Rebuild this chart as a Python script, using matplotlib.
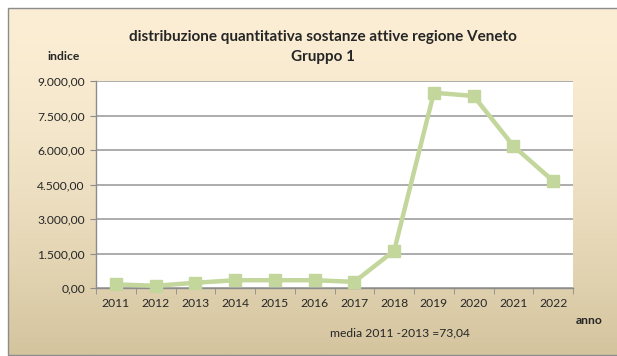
import numpy as np
import matplotlib
matplotlib.use("Agg")
import matplotlib.pyplot as plt
from matplotlib.patches import Rectangle

# index values (media 2011-2013 = 100)
anni = ["2011", "2012", "2013", "2014", "2015", "2016",
        "2017", "2018", "2019", "2020", "2021", "2022"]
indice = [170, 110, 240, 350, 350, 350, 280, 1630, 8490, 8350, 6180, 4660]
y_ticks = [0, 1500, 3000, 4500, 6000, 7500, 9000]
y_labels = ["0,00", "1.500,00", "3.000,00", "4.500,00",
            "6.000,00", "7.500,00", "9.000,00"]

W, H = 617, 356
FONT = "Lato"
TXT = "#262626"
SMALL = 8.7

fig = plt.figure(figsize=(W / 100, H / 100), dpi=100)
fig.patch.set_facecolor("white")

# chart area background: cream to tan gradient inside a thin grey frame
bg = fig.add_axes([0, 0, 1, 1])
bg.set_xlim(0, W)
bg.set_ylim(H, 0)
bg.axis("off")
top = np.array([251, 238, 212]) / 255
bot = np.array([212, 196, 158]) / 255
t = np.linspace(0, 1, 200)[:, None]
grad = top + (bot - top) * t ** 1.6
grad = np.repeat(grad[:, None, :], 2, axis=1)
bg.imshow(grad, extent=[8, W, 355, 8], aspect="auto", zorder=0)
bg.add_patch(Rectangle((8, 8), W, 347, fill=False, edgecolor="#8c8c8c",
                       linewidth=1.0, zorder=1))

ax = fig.add_axes([96 / W, (H - 288.3) / H, (573 - 96) / W, (288.3 - 81) / H])
ax.set_facecolor("white")
x = np.arange(len(anni))
ax.plot(x, indice, color="#c3d69b", linewidth=3.2, marker="s",
        markersize=9, markeredgecolor="#c3d69b", zorder=3, clip_on=False)

ax.set_xlim(-0.5, len(anni) - 0.5)
ax.set_ylim(0, 9000)
ax.set_yticks(y_ticks)
ax.set_yticklabels(y_labels)
ax.set_xticks(x)
ax.set_xticklabels(anni)
ax.set_xticks(np.arange(-0.5, len(anni)), minor=True)
ax.grid(axis="y", color="#a6a6a6", linewidth=1.3, zorder=1)

for s in ["top", "right"]:
    ax.spines[s].set_visible(False)
for s in ["left", "bottom"]:
    ax.spines[s].set_color("#8c8c8c")
    ax.spines[s].set_linewidth(1.0)

ax.tick_params(axis="x", which="major", length=0, pad=7,
               labelsize=SMALL, labelcolor=TXT)
ax.tick_params(axis="x", which="minor", length=4, color="#8c8c8c")
ax.tick_params(axis="y", length=4, color="#8c8c8c", pad=4,
               labelsize=SMALL, labelcolor=TXT)
for lab in ax.get_xticklabels() + ax.get_yticklabels():
    lab.set_family(FONT)

bg.text(323, 37, "distribuzione quantitativa sostanze attive regione Veneto",
        ha="center", va="center", fontsize=11, fontweight="bold",
        family=FONT, color=TXT)
bg.text(323, 57, "Gruppo 1", ha="center", va="center", fontsize=11,
        fontweight="bold", family=FONT, color=TXT)
bg.text(64, 57, "indice", ha="center", va="center", fontsize=SMALL,
        fontweight="bold", family=FONT, color=TXT)
bg.text(589, 320, "anno", ha="center", va="center", fontsize=SMALL,
        fontweight="bold", family=FONT, color=TXT)
bg.text(400, 333, "media 2011 -2013 =73,04", ha="center", va="center",
        fontsize=SMALL, family=FONT, color=TXT)

fig.savefig("out.png", dpi=100)
